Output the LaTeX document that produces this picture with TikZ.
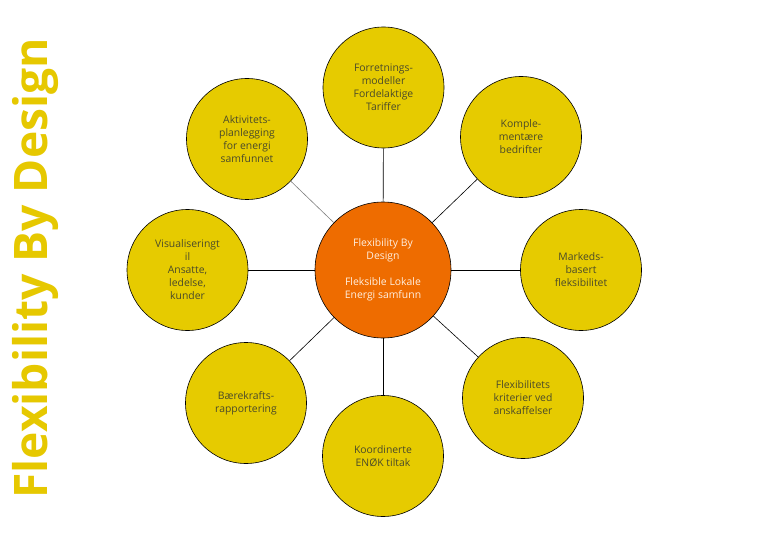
\documentclass[tikz,border=0pt]{standalone}
\usepackage{fontspec}
\setmainfont{Open Sans}
\begin{document}
\begin{tikzpicture}[x=1pt,y=-1pt,
  bub/.style={circle,draw=black,line width=0.6pt,fill=bubfill,minimum size=121pt,inner sep=0pt,
    align=center,text=bubtext,font=\fontsize{10.4}{13}\selectfont},
  hub/.style={circle,draw=black,line width=0.6pt,fill=hubfill,minimum size=136pt,inner sep=0pt,
    align=center,text=hubtext,font=\fontsize{10.4}{13}\selectfont},
  link/.style={draw=black,line width=0.6pt},
  glink/.style={draw=gray,line width=0.6pt}]
\definecolor{bubfill}{HTML}{E6CB00}
\definecolor{hubfill}{HTML}{EE6C00}
\definecolor{bubtext}{HTML}{4A4A2A}
\definecolor{hubtext}{HTML}{FFEFE0}
\definecolor{titlecol}{HTML}{E6C800}
\useasboundingbox (0,0) rectangle (768,540);
\fill[white] (0,0) rectangle (768,540);
\node[hub] (c) at (383,270) {Flexibility By\\Design\\[13pt]Fleksible Lokale\\Energi samfunn};
\node[bub] (t) at (383.5,87.5) {Forretnings-\\modeller\\Fordelaktige\\Tariffer};
\node[bub] (tr) at (521,137) {Komple-\\mentære\\bedrifter};
\node[bub] (r) at (581,270) {Markeds-\\basert\\fleksibilitet};
\node[bub] (br) at (523,398) {Flexibilitets\\kriterier ved\\anskaffelser};
\node[bub] (b) at (383,456) {Koordinerte\\ENØK tiltak};
\node[bub] (bl) at (246,403) {Bærekrafts-\\rapportering};
\node[bub] (l) at (187.5,270) {Visualiseringt\\il\\Ansatte,\\ledelse,\\kunder};
\node[bub] (tl) at (247,139) {Aktivitets-\\planlegging\\for energi\\samfunnet};
\draw[link] (c) -- (t);
\draw[link] (c) -- (tr);
\draw[link] (c) -- (r);
\draw[link] (c) -- (br);
\draw[link] (c) -- (b);
\draw[link] (c) -- (bl);
\draw[link] (c) -- (l);
\draw[glink] (c) -- (tl);
\node[rotate=90,text=titlecol,font=\fontsize{46.2}{48}\selectfont\bfseries,inner sep=0pt,anchor=base west] (title) at (47.5,499) {Flexibility By Design};
\end{tikzpicture}
\end{document}
